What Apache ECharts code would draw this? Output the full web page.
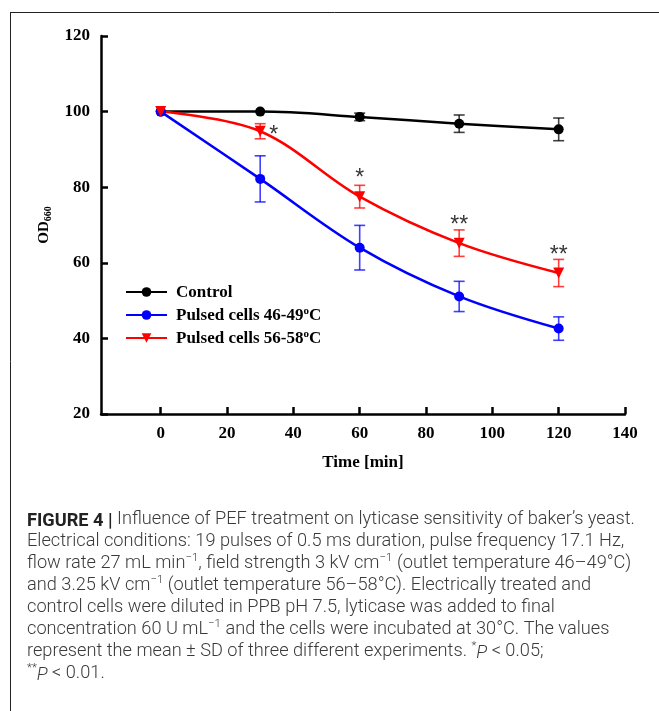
<!DOCTYPE html>
<html><head><meta charset="utf-8">
<script src="https://cdn.jsdelivr.net/npm/echarts@6/dist/echarts.min.js"></script>
<style>html,body{margin:0;padding:0;background:#fff}#c{width:659px;height:711px}</style>
</head><body><div id="c"></div>
<script>
const times = [0, 30, 60, 90, 120];
const controlMean = [100, 100, 98.6, 96.8, 95.3];
const controlSD = [0, 0, 1.0, 2.3, 3.0];
const pulsed4649Mean = [100, 82.2, 64.0, 51.1, 42.6];
const pulsed4649SD = [0, 6.1, 5.9, 4.0, 3.1];
const pulsed5658Mean = [100, 94.8, 77.5, 65.2, 57.3];
const pulsed5658SD = [0, 2.0, 3.0, 3.5, 3.6];
const signifTimes = [30, 60, 90, 120];
const signifMarks = ['*', '*', '**', '**'];
const xTicks = [0, 20, 40, 60, 80, 100, 120, 140];
const seriesNames = ['Control', 'Pulsed cells 46-49°C', 'Pulsed cells 56-58°C'];
const captionLines = [
  '{b|FIGURE 4 |} Influence of PEF treatment on lyticase sensitivity of baker\u2019s yeast.',
  'Electrical conditions: 19 pulses of 0.5 ms duration, pulse frequency 17.1 Hz,',
  'flow rate 27 mL min{s|\u22121}, field strength 3 kV cm{s|\u22121} (outlet temperature 46\u201349\u00b0C)',
  'and 3.25 kV cm{s|\u22121} (outlet temperature 56\u201358\u00b0C). Electrically treated and',
  'control cells were diluted in PPB pH 7.5, lyticase was added to final',
  'concentration 60 U mL{s|\u22121} and the cells were incubated at 30\u00b0C. The values',
  'represent the mean \u00b1 SD of three different experiments. {s|*}{i|P} < 0.05;',
  '{s|**}{i|P} < 0.01.'
];

const SERIF = '"Liberation Serif", "Times New Roman", serif';
const colors = ['#000000', '#0000ff', '#ff0000'];
const CAP = 18.2;

function errorSeries(id, means, sds, color) {
  const data = [];
  times.forEach((t, i) => { if (sds[i] > 0) data.push([t, means[i] - sds[i], means[i] + sds[i]]); });
  return {
    type: 'custom', id: id, name: id, data: data, z: 3,
    encode: { x: 0, y: [1, 2] },
    renderItem: function (params, api) {
      const x = api.value(0);
      const lo = api.coord([x, api.value(1)]);
      const hi = api.coord([x, api.value(2)]);
      const w = 5.5;
      const style = { stroke: color, lineWidth: 1.6, opacity: 0.75 };
      return { type: 'group', children: [
        { type: 'line', shape: { x1: lo[0], y1: lo[1], x2: hi[0], y2: hi[1] }, style: style },
        { type: 'line', shape: { x1: lo[0] - w, y1: lo[1], x2: lo[0] + w, y2: lo[1] }, style: style },
        { type: 'line', shape: { x1: hi[0] - w, y1: hi[1], x2: hi[0] + w, y2: hi[1] }, style: style }
      ]};
    }
  };
}

function lineSeries(name, means, color, symbol, size, rot) {
  return {
    type: 'line', name: name, smooth: 0.35, z: 4,
    data: times.map((t, i) => [t, means[i]]),
    symbol: symbol, symbolSize: size, symbolRotate: rot, showAllSymbol: true,
    itemStyle: { color: color },
    lineStyle: { color: color, width: 2.5 }
  };
}

const signifData = signifTimes.map((t, i) => {
  const idx = times.indexOf(t);
  const first = i === 0;
  return {
    value: [t, pulsed5658Mean[idx]], name: signifMarks[i],
    label: first ? { position: 'right', distance: 9, offset: [0, 4] } : { position: 'top', distance: 6 }
  };
});

const graphics = [
  { type: 'line', shape: { x1: 10, y1: 12.5, x2: 659, y2: 12.5 }, style: { stroke: '#222', lineWidth: 1 } },
  { type: 'line', shape: { x1: 10.5, y1: 12, x2: 10.5, y2: 711 }, style: { stroke: '#222', lineWidth: 1 } }
];
captionLines.forEach((ln, i) => {
  graphics.push({
    type: 'text', left: 27, top: 508 + i * 22,
    style: {
      text: ln, fill: '#3a3a3a', fontFamily: 'Roboto, sans-serif', fontWeight: 300, fontSize: CAP, lineHeight: 22,
      rich: {
        b: { fontWeight: 'bold', fontFamily: 'Roboto, sans-serif', fontSize: CAP, fill: '#222', lineHeight: 22, verticalAlign: 'bottom' },
        s: { fontSize: 11.5, fontWeight: 300, fontFamily: 'Roboto, sans-serif', fill: '#3a3a3a', lineHeight: 12, verticalAlign: 'top' },
        i: { fontStyle: 'italic', fontWeight: 300, fontFamily: 'Roboto, sans-serif', fontSize: CAP, fill: '#3a3a3a', lineHeight: 22, verticalAlign: 'bottom' }
      }
    }
  });
});

const chart = echarts.init(document.getElementById('c'));
chart.setOption({
  animation: false,
  backgroundColor: '#fff',
  grid: { left: 101, right: 34, top: 36, bottom: 297, outerBoundsMode: 'none', containLabel: false },
  xAxis: {
    type: 'value', min: -18, max: 140,
    name: 'Time [min]', nameLocation: 'middle', nameGap: 40,
    nameTextStyle: { fontFamily: SERIF, fontWeight: 'bold', fontSize: 17, color: '#000' },
    axisLine: { onZero: false, lineStyle: { color: '#000', width: 2.5 } },
    axisTick: { inside: true, length: 7, customValues: xTicks, lineStyle: { color: '#000', width: 2.5 } },
    axisLabel: { customValues: xTicks, margin: 11, fontFamily: SERIF, fontWeight: 'bold', fontSize: 17, color: '#000' },
    splitLine: { show: false }
  },
  yAxis: {
    type: 'value', min: 20, max: 120, interval: 20,
    name: '{a|OD}{b|660}', nameLocation: 'middle', nameGap: 48,
    nameTextStyle: {
      color: '#000',
      rich: {
        a: { fontFamily: SERIF, fontWeight: 'bold', fontSize: 15, color: '#000', lineHeight: 18, verticalAlign: 'middle' },
        b: { fontFamily: SERIF, fontWeight: 'bold', fontSize: 10, color: '#000', lineHeight: 10, verticalAlign: 'bottom' }
      }
    },
    axisLine: { show: true, onZero: false, lineStyle: { color: '#000', width: 2.5 } },
    axisTick: { show: true, inside: true, length: 7, lineStyle: { color: '#000', width: 2.5 } },
    axisLabel: { margin: 11, fontFamily: SERIF, fontWeight: 'bold', fontSize: 17, color: '#000' },
    splitLine: { show: false }
  },
  legend: {
    data: seriesNames, orient: 'vertical', left: 120, top: 279,
    itemWidth: 41, itemHeight: 12, itemGap: 5,
    formatter: function (n) { return n.replace('°C', '{s|o}{n|C}').replace(/^([^{]+)/, '{n|$1}'); },
    textStyle: {
      color: '#000', fontFamily: SERIF, fontWeight: 'bold', fontSize: 17, padding: [0, 0, 0, 4],
      rich: {
        n: { fontFamily: SERIF, fontWeight: 'bold', fontSize: 17, color: '#000', lineHeight: 18, verticalAlign: 'bottom' },
        s: { fontFamily: SERIF, fontWeight: 'bold', fontSize: 11, color: '#000', lineHeight: 11, verticalAlign: 'top' }
      }
    }
  },
  graphic: graphics,
  series: [
    errorSeries('err-control', controlMean, controlSD, '#000'),
    errorSeries('err-4649', pulsed4649Mean, pulsed4649SD, '#0000ff'),
    errorSeries('err-5658', pulsed5658Mean, pulsed5658SD, '#ff0000'),
    lineSeries(seriesNames[0], controlMean, colors[0], 'circle', 10, 0),
    lineSeries(seriesNames[1], pulsed4649Mean, colors[1], 'circle', 10, 0),
    lineSeries(seriesNames[2], pulsed5658Mean, colors[2], 'triangle', 11, 180),
    {
      type: 'scatter', name: 'sig', data: signifData, symbolSize: 0, z: 6, silent: true,
      label: { show: true, formatter: '{b}', color: '#000', fontFamily: '"Liberation Sans", Arial, sans-serif', fontSize: 23 }
    }
  ]
});
</script>
</body></html>
